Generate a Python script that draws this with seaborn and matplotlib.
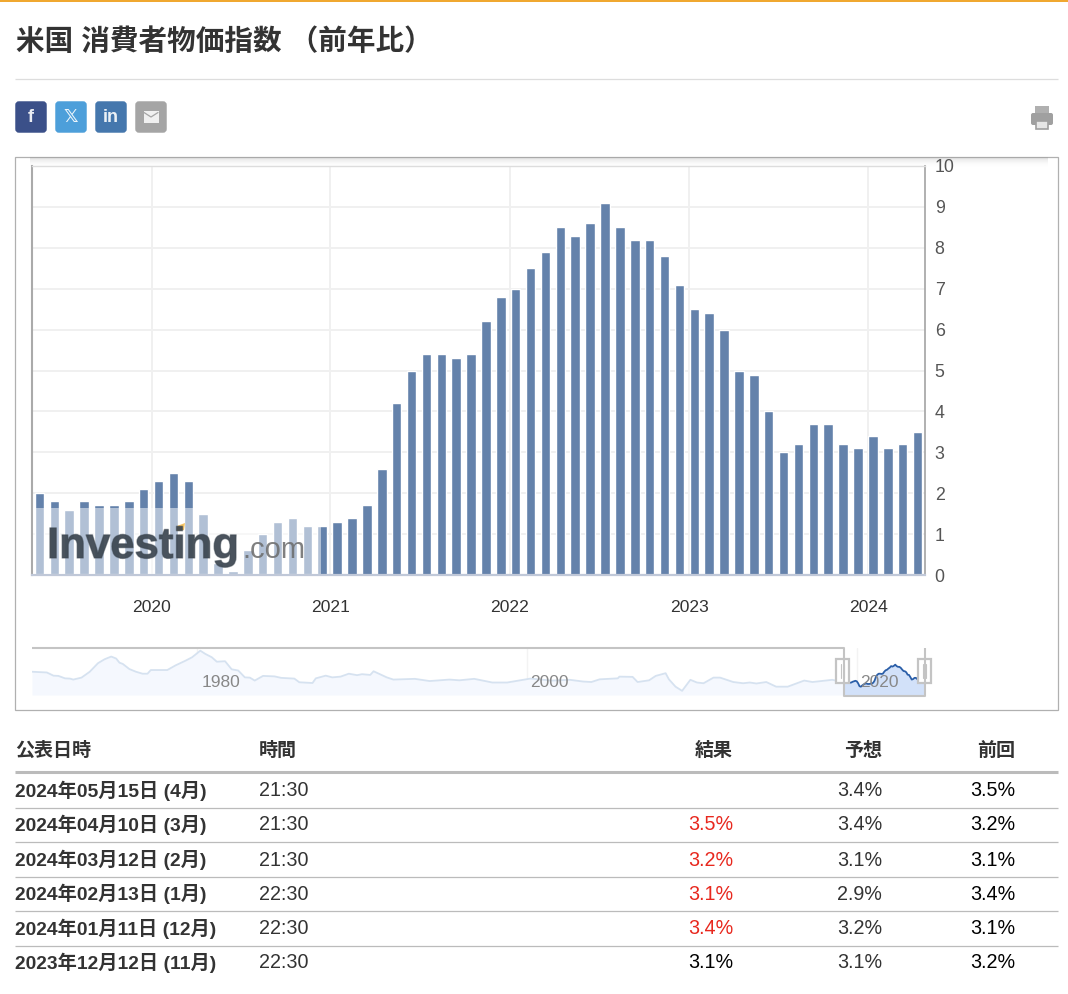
import numpy as np
import matplotlib
matplotlib.use('Agg')
import matplotlib.pyplot as plt
import matplotlib.patheffects as pe
from matplotlib.patches import Rectangle, FancyBboxPatch, Polygon
import seaborn as sns

# --- data ---
cpi_values = [2.0, 1.8, 1.6, 1.8, 1.7, 1.7, 1.8, 2.1, 2.3, 2.5, 2.3, 1.5, 0.3, 0.1, 0.6, 1.0, 1.3, 1.4, 1.2, 1.2,
              1.3, 1.4, 1.7, 2.6, 4.2, 5.0, 5.4, 5.4, 5.3, 5.4, 6.2, 6.8, 7.0, 7.5, 7.9, 8.5, 8.3, 8.6, 9.1, 8.5,
              8.2, 8.2, 7.8, 7.1, 6.5, 6.4, 6.0, 5.0, 4.9, 4.0, 3.0, 3.2, 3.7, 3.7, 3.2, 3.1, 3.4, 3.1, 3.2, 3.5]
year_labels = ['2020', '2021', '2022', '2023', '2024']
year_positions = [7.53, 19.55, 31.6, 43.65, 55.7]
y_ticks = list(range(0, 11))

nav_years = [1970.0, 1970.9, 1971.3, 1971.6, 1972.0, 1972.3, 1972.5, 1973.0, 1973.5, 1974.0, 1974.4, 1974.8,
             1975.1, 1975.3, 1975.5, 1975.9, 1976.3, 1976.7, 1977.0, 1977.2, 1977.6, 1978.2, 1978.7, 1979.3,
             1979.7, 1980.2, 1980.5, 1980.9, 1981.2, 1981.7, 1982.1, 1982.5, 1982.9, 1983.2, 1983.5, 1984.0,
             1984.7, 1985.1, 1985.9, 1986.2, 1987.0, 1987.2, 1987.8, 1988.2, 1988.7, 1989.2, 1989.7, 1990.0,
             1990.5, 1990.7, 1991.5, 1991.9, 1993.2, 1994.1, 1995.3, 1995.9, 1996.8, 1997.9, 1998.8, 2000.2,
             2001.5, 2002.6, 2003.4, 2003.9, 2004.4, 2005.5, 2005.6, 2006.4, 2006.7, 2007.4, 2007.8, 2008.4,
             2008.6, 2009.0, 2009.4, 2009.9, 2010.3, 2010.7, 2011.3, 2011.7, 2012.5, 2013.1, 2013.5, 2013.9,
             2014.5, 2015.1, 2015.8, 2016.8, 2017.3, 2018.5, 2019.15]
nav_values = [6.2, 5.9, 4.6, 4.5, 3.5, 3.4, 3.0, 3.8, 6.2, 9.7, 11.3, 12.4,
              11.6, 9.9, 9.4, 7.3, 6.2, 5.4, 5.4, 6.9, 6.9, 6.9, 8.8, 10.7,
              12.1, 14.8, 13.5, 12.1, 10.3, 10.5, 7.2, 6.7, 3.9, 3.8, 2.6, 4.5,
              4.3, 3.7, 3.4, 1.9, 1.6, 3.5, 4.6, 3.9, 4.2, 5.4, 4.8, 5.2,
              4.9, 6.4, 3.9, 3.0, 3.3, 2.4, 3.0, 2.7, 3.3, 1.8, 1.8, 3.4,
              2.6, 2.9, 2.2, 2.0, 3.1, 3.5, 4.2, 4.1, 2.0, 2.7, 4.5, 5.6,
              3.1, 0.1, -1.6, 2.9, 1.8, 1.5, 3.8, 3.8, 2.0, 1.5, 1.8, 1.4,
              2.0, 0.1, 0.1, 2.6, 2.0, 2.9, 2.0]
nav_label_text = ['1980', '2000', '2020']

table_dates = ['2024年05月15日 (4月)', '2024年04月10日 (3月)', '2024年03月12日 (2月)',
               '2024年02月13日 (1月)', '2024年01月11日 (12月)', '2023年12月12日 (11月)']
table_times = ['21:30', '21:30', '21:30', '22:30', '22:30', '22:30']
table_actual = ['', '3.5%', '3.2%', '3.1%', '3.4%', '3.1%']
table_forecast = ['3.4%', '3.4%', '3.1%', '2.9%', '3.2%', '3.1%']
table_previous = ['3.5%', '3.2%', '3.1%', '3.4%', '3.1%', '3.2%']
actual_colors = ['#000000', '#e8281e', '#e8281e', '#e8281e', '#e8281e', '#000000']
table_headers = ['公表日時', '時間', '結果', '予想', '前回']

# --- setup ---
W, H = 1068, 994
sns.set_theme(style='whitegrid')
plt.rcParams['font.family'] = ['Liberation Sans', 'Noto Sans CJK JP', 'DejaVu Sans']
fig = plt.figure(figsize=(W / 100, H / 100), dpi=100, facecolor='white')


def px_axes(x0, y0, x1, y1, **kw):
    return fig.add_axes([x0 / W, 1 - y1 / H, (x1 - x0) / W, (y1 - y0) / H], **kw)


# page layer in pixel coordinates
page = px_axes(0, 0, W, H, zorder=0)
page.set_xlim(0, W)
page.set_ylim(H, 0)
page.axis('off')

page.add_patch(Rectangle((0, 0), W, 1.5, color='#f0a830', lw=0))
page.text(15.5, 42, '米国 消費者物価指数 （前年比）', fontsize=20.6, fontweight='bold', color='#333333', va='center')
page.plot([15, 1058], [78.5, 78.5], color='#dddddd', lw=0.9, solid_capstyle='butt')

# share buttons
share = [(15, '#3b5089', 'f'), (55, '#4d9fda', '𝕏'), (95, '#4577ad', 'in'), (135, '#a5a5a5', '')]
for x, col, s in share:
    page.add_patch(FancyBboxPatch((x + 2, 103), 28, 28, boxstyle='round,pad=0,rounding_size=2',
                                  mutation_aspect=1, fc=col, ec=col, lw=2.5))
    if s:
        page.text(x + 16, 118, s, color='white', ha='center', va='center', fontsize=13, fontweight='bold',
                  family=['Liberation Sans', 'DejaVu Sans'], alpha=0.9)
page.add_patch(Rectangle((143.5, 111), 15, 12, fc='#f0f0f0', ec='none'))
page.plot([144, 151, 158], [112.5, 117, 112.5], color='#a5a5a5', lw=0.9)

# printer icon
page.add_patch(Rectangle((1035, 106), 14, 10, fc='#b0b0b0', ec='none'))
page.add_patch(FancyBboxPatch((1031, 113), 22, 12, boxstyle='round,pad=0,rounding_size=2', fc='#a0a0a0', ec='none'))
page.add_patch(Rectangle((1036, 121), 12, 7.5, fc='#e6e6e6', ec='#a0a0a0', lw=1.2))

# chart frame with the soft shadow under its top edge
page.add_patch(Rectangle((15, 156.5), 1043, 553.5, fc='white', ec='#b0b0b0', lw=0.9))
for i in range(10):
    page.add_patch(Rectangle((30, 157 + i), 1018, 1, fc='#999999', ec='none', alpha=0.3 * (1 - i / 10) ** 2))

# --- main bar chart ---
ax = px_axes(32, 166, 925, 575, zorder=2)
ax.set_facecolor('none')
months = np.arange(len(cpi_values))
sns.barplot(x=months, y=cpi_values, color='#6482ab', saturation=1, width=0.64, ax=ax, zorder=3)
ax.set_xlim(-0.5, 59.5)
ax.set_ylim(0, 10)
ax.set_xticks(year_positions)
ax.set_xticklabels(year_labels)
ax.set_yticks(y_ticks)
ax.yaxis.tick_right()
ax.grid(True, color='#f0f0f0', lw=1.4)
ax.set_axisbelow(True)
ax.tick_params(axis='x', length=0, pad=18, labelsize=12.6, labelcolor='#333333')
ax.tick_params(axis='y', length=0, pad=7, labelsize=12.8, labelcolor='#555555')
ax.set_xlabel('')
ax.set_ylabel('')
for name, col, lw in [('left', '#aaaaaa', 1.5), ('right', '#aaaaaa', 1.3), ('top', '#dddddd', 1.0), ('bottom', '#c0c8d8', 1.6)]:
    ax.spines[name].set_color(col)
    ax.spines[name].set_linewidth(lw)
    ax.spines[name].set_zorder(6)

# --- navigator ---
nav = px_axes(32, 648, 925, 695, zorder=2)
nav.set_facecolor('none')
sel_years = 2019.15 + months / 12
sns.lineplot(x=nav_years, y=nav_values, color='#d6e2f0', lw=1.3, ax=nav, zorder=3)
sns.lineplot(x=sel_years, y=cpi_values, color='#2a5ea8', lw=1.3, ax=nav, zorder=4)
nav.set_xlim(1970, 2024.12)
nav.set_ylim(-3.3, 15.9)
nav.fill_between(nav_years, nav_values, -3.3, color='#f5f8fe', lw=0, zorder=1)
nav.fill_between(sel_years, cpi_values, -3.3, color='#d2e1f9', lw=0, zorder=2)
nav.set_xticks([1980, 2000, 2020])
nav.set_xticklabels([])
nav.set_yticks([])
nav.grid(True, axis='x', color='#f3f3f3', lw=1)
nav.tick_params(length=0)
for s in nav.spines.values():
    s.set_visible(False)

# --- overlay in pixels: watermark, navigator handles, table ---
top = px_axes(0, 0, W, H, zorder=5)
top.set_xlim(0, W)
top.set_ylim(H, 0)
top.axis('off')

top.add_patch(Rectangle((33, 508), 288, 66, fc='white', ec='none', alpha=0.5))
top.text(47, 558, 'Investing', fontsize=31.5, fontweight='bold', color='#3c4650', alpha=0.85, va='baseline',
         path_effects=[pe.withStroke(linewidth=1, foreground='#3c4650', alpha=0.5)])
top.text(242, 558, '.com', fontsize=21, color='#6a6a6a', alpha=0.85, va='baseline')
top.add_patch(Polygon([[177, 526], [185, 523], [184, 530], [177, 531]], fc='#f7c463', ec='none'))

for x, s in zip([221, 549, 879], nav_label_text):
    top.text(x, 682.5, s, ha='center', va='center', fontsize=12.5, color='#888888')

top.plot([32, 843.5, 843.5, 924.5, 924.5], [648, 648, 695.5, 695.5, 648], color='#c4c4c4', lw=1.5, solid_capstyle='butt')
for x in [836, 917.5]:
    top.add_patch(Rectangle((x, 659), 13, 24, fc='white', ec='#c4c4c4', lw=1.6))
    top.plot([x + 5, x + 5], [664, 678], color='#c4c4c4', lw=0.8)
    top.plot([x + 8, x + 8], [664, 678], color='#c4c4c4', lw=0.8)

# table
header_y = 751
row_y = [790, 824, 859, 893, 928, 962]
line_y = [807.5, 841.5, 876.5, 910.5, 945.5]
top.plot([15, 1058], [771.5, 771.5], color='#bbbbbb', lw=2.2, solid_capstyle='butt')
for y in line_y:
    top.plot([15, 1058], [y, y], color='#bbbbbb', lw=0.9, solid_capstyle='butt')

for x, s, ha in zip([15, 259, 733, 882, 1015], table_headers, ['left', 'left', 'right', 'right', 'right']):
    top.text(x, header_y, s, fontsize=13.7, fontweight='bold', color='#333333', ha=ha, va='center')

for i, y in enumerate(row_y):
    top.text(15, y + 0.5, table_dates[i], fontsize=13.85, fontweight='bold', color='#333333', va='center')
    top.text(259, y + 1, table_times[i], fontsize=14.2, color='#333333', va='center')
    top.text(733, y + 1, table_actual[i], fontsize=14.2, color=actual_colors[i], ha='right', va='center')
    top.text(882, y + 1, table_forecast[i], fontsize=14.2, color='#333333', ha='right', va='center')
    top.text(1015, y + 1, table_previous[i], fontsize=14.2, color='#000000', ha='right', va='center')

fig.savefig('out.png', dpi=100)
